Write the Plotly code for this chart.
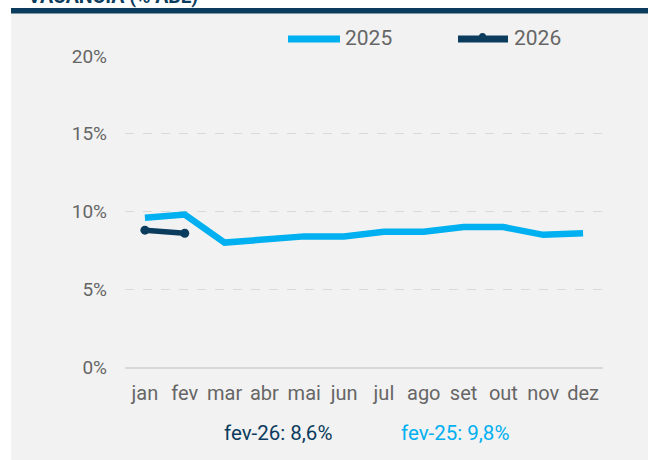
import plotly.graph_objects as go

months = ["jan", "fev", "mar", "abr", "mai", "jun", "jul", "ago", "set", "out", "nov", "dez"]
vac_2025 = [9.6, 9.8, 8.0, 8.2, 8.4, 8.4, 8.7, 8.7, 9.0, 9.0, 8.5, 8.6]
vac_2026 = [8.8, 8.6]
y_ticks = [0, 5, 10, 15, 20]
y_tick_labels = ["0%", "5%", "10%", "15%", "20%"]
note_2026 = "fev-26: 8,6%"
note_2025 = "fev-25: 9,8%"
title_text = "VACÂNCIA (% ABL)"

LIGHT = "#00b0f0"
NAVY = "#0b3c5d"
GREY_TXT = "#666666"
BG = "#f2f2f2"
FONT = "Roboto"

W, H = 648, 460
L, R, T, B = 125, 45, 56, 93
PW, PH = W - L - R, H - T - B


def px(x):
    return (x - L) / PW


def py(y):
    return (H - B - y) / PH


fig = go.Figure()
fig.add_trace(go.Scatter(x=months, y=vac_2025, mode="lines", name="2025",
                         line=dict(color=LIGHT, width=6.5), showlegend=False))
fig.add_trace(go.Scatter(x=months[:len(vac_2026)], y=vac_2026, mode="lines+markers", name="2026",
                         line=dict(color=NAVY, width=5.5), marker=dict(size=9, color=NAVY),
                         showlegend=False))

shapes = [
    dict(type="rect", xref="paper", yref="paper", x0=px(-5), x1=px(11), y0=py(470), y1=py(-10),
         fillcolor="white", line_width=0, layer="below"),
    dict(type="rect", xref="paper", yref="paper", x0=px(-5), x1=px(660), y0=py(8), y1=py(-10),
         fillcolor="white", line_width=0, layer="below"),
    dict(type="rect", xref="paper", yref="paper", x0=px(11), x1=px(660), y0=py(13.5), y1=py(8),
         fillcolor=NAVY, line_width=0, layer="below"),
    # legend samples
    dict(type="line", xref="paper", yref="paper", x0=px(288), x1=px(340), y0=py(39), y1=py(39),
         line=dict(color=LIGHT, width=7)),
    dict(type="line", xref="paper", yref="paper", x0=px(458), x1=px(508), y0=py(39), y1=py(39),
         line=dict(color=NAVY, width=7)),
    dict(type="circle", xref="paper", yref="paper", x0=px(479), x1=px(486), y0=py(40), y1=py(33),
         fillcolor=NAVY, line_width=0),
]

annotations = [
    dict(text="<b>" + title_text + "</b>", xref="paper", yref="paper", x=px(26), y=py(-4),
         xanchor="left", yanchor="middle", showarrow=False, font=dict(family=FONT, size=19.5, color=NAVY)),
    dict(text="2025", xref="paper", yref="paper", x=px(343), y=py(38), xanchor="left", yanchor="middle",
         showarrow=False, font=dict(family=FONT, size=21, color=GREY_TXT)),
    dict(text="2026", xref="paper", yref="paper", x=px(512), y=py(38), xanchor="left", yanchor="middle",
         showarrow=False, font=dict(family=FONT, size=21, color=GREY_TXT)),
    dict(text=note_2026, xref="paper", yref="paper", x=px(278), y=py(433), xanchor="center", yanchor="middle",
         showarrow=False, font=dict(family=FONT, size=20.5, color=NAVY)),
    dict(text=note_2025, xref="paper", yref="paper", x=px(455), y=py(433), xanchor="center", yanchor="middle",
         showarrow=False, font=dict(family=FONT, size=20.5, color=LIGHT)),
]

fig.update_layout(
    width=W, height=H,
    margin=dict(l=L, r=R, t=T, b=B, pad=0),
    paper_bgcolor=BG, plot_bgcolor=BG,
    showlegend=False,
    shapes=shapes, annotations=annotations,
    font=dict(family=FONT, size=19, color=GREY_TXT),
    xaxis=dict(type="category", categoryorder="array", categoryarray=months, range=[-0.5, 11.5],
               showgrid=False, showline=True, linecolor="#d9d9d9", linewidth=2,
               ticks="", ticklabelstandoff=7, tickfont=dict(size=20, color=GREY_TXT), fixedrange=True),
    yaxis=dict(range=[0, 20], tickvals=y_ticks, ticktext=y_tick_labels, showgrid=True,
               gridcolor="#d9d9d9", griddash="dash", gridwidth=1, zeroline=False, showline=False,
               ticks="", ticklabelstandoff=17, tickfont=dict(size=19, color=GREY_TXT), fixedrange=True),
)

fig.write_html("out.html", config={"displayModeBar": False},
               post_script="document.body.style.margin='0px';document.body.style.padding='0px';")
